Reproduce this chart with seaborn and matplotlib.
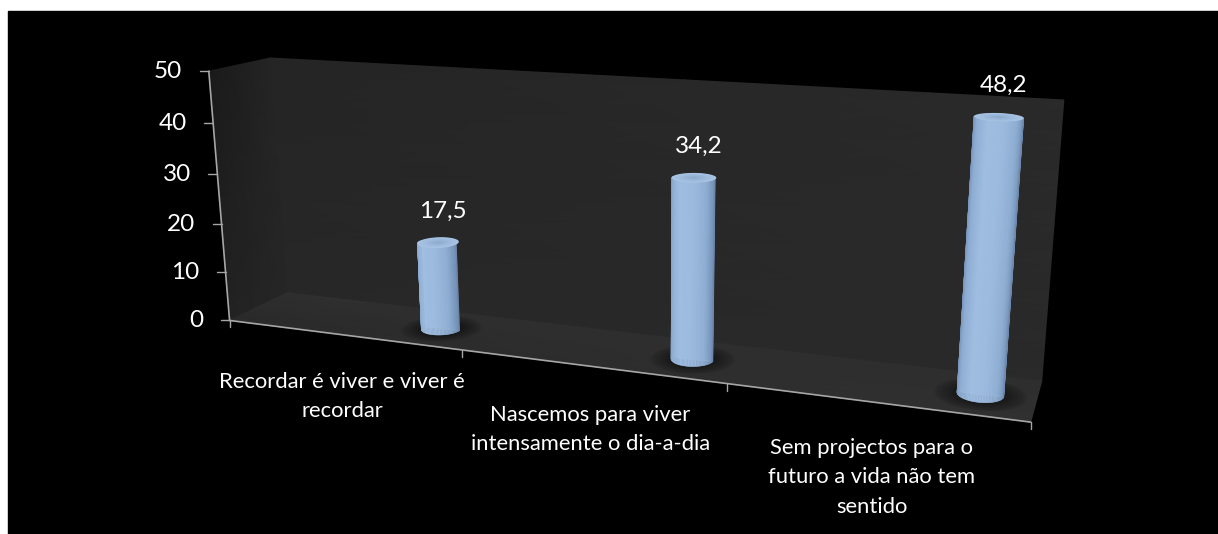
import numpy as np
import matplotlib
matplotlib.use("Agg")
import matplotlib.pyplot as plt
import matplotlib.transforms as mtransforms
from matplotlib.colors import LinearSegmentedColormap
from matplotlib.patches import Rectangle
import seaborn as sns

# Chart values
categories = [
    "Recordar é viver e viver é\nrecordar",
    "Nascemos para viver\nintensamente o dia-a-dia",
    "Sem projectos para o\nfuturo a vida não tem\nsentido",
]
values = [17.5, 34.2, 48.2]
value_labels = ["17,5", "34,2", "48,2"]
y_ticks = [0, 10, 20, 30, 40, 50]
x_ticks = [0, 1, 2, 3]

# Scene layout: (category pos, value, depth) anchors and their pixel positions,
# used to fit the perspective camera of the pseudo-3D box.
scene_anchors = [
    (0, 0, 0, 231, 321), (1, 0, 0, 461, 352), (2, 0, 0, 726, 383), (3, 0, 0, 1031, 422),
    (0, 10, 0, 226, 272), (0, 20, 0, 221, 223), (0, 30, 0, 216, 173), (0, 40, 0, 213, 123),
    (0, 50, 0, 210, 71), (0, 0, 1, 287, 293), (3, 0, 1, 1042, 380),
    (0, 50, 1, 270, 58), (3, 50, 1, 1064, 101),
]
bar_positions = [0.815, 1.815, 2.82]
bar_depth = 0.5
radius_u, radius_d = 0.076, 0.2
label_offsets = [(-120, 22), (-136, 21), (-159, 16)]

anchors = np.array(scene_anchors, float)
rows, rhs = [], []
for u, v, d, px, py in anchors:
    rows.append([u, v, d, 1, 0, 0, 0, 0, -px * u, -px * v, -px * d])
    rhs.append(px)
    rows.append([0, 0, 0, 0, u, v, d, 1, -py * u, -py * v, -py * d])
    rhs.append(py)
camera = np.append(np.linalg.lstsq(np.array(rows), np.array(rhs), rcond=None)[0], 1).reshape(3, 4)


def project(u, v, d):
    u, v, d = np.broadcast_arrays(np.asarray(u, float), np.asarray(v, float), np.asarray(d, float))
    pts = np.stack([u, v, d, np.ones_like(u)], axis=-1) @ camera.T
    return pts[..., 0] / pts[..., 2], pts[..., 1] / pts[..., 2]


class DepthPlane(mtransforms.Transform):
    """Maps (category pos, value) at a fixed depth onto the canvas."""
    input_dims = output_dims = 2
    is_separable = False

    def __init__(self, plane_depth):
        super().__init__()
        self.plane_depth = plane_depth

    def transform_non_affine(self, xy):
        xy = np.asarray(xy, float)
        return np.column_stack(project(xy[:, 0], xy[:, 1], self.plane_depth))


sns.set_theme(style="dark")
plt.rcParams["font.family"] = ["Lato", "DejaVu Sans"]

fig = plt.figure(figsize=(12.18, 5.34), dpi=100, facecolor="white")
ax = fig.add_axes([0, 0, 1, 1])
ax.add_patch(Rectangle((8, 11), 1210, 523, color="black", zorder=0))


def shade_face(corner_fn, greys, zorder=1):
    """Paints one box face with a grey gradient given at its four corners."""
    s, t = np.meshgrid(np.linspace(0, 1, 8), np.linspace(0, 1, 8))
    X, Y = corner_fn(s, t)
    g = np.array(greys, float)
    C = (g[0] * (1 - s) * (1 - t) + g[1] * s * (1 - t) + g[2] * (1 - s) * t + g[3] * s * t)
    ax.pcolormesh(X, Y, C, shading="gouraud", cmap="gray", vmin=0, vmax=1, zorder=zorder, rasterized=True)


shade_face(lambda s, t: project(3 * s, 50 * t, 1), [0.155, 0.165, 0.145, 0.165])
shade_face(lambda s, t: project(0, 50 * t, s), [0.135, 0.15, 0.105, 0.145])
shade_face(lambda s, t: project(3 * s, 0, t), [0.165, 0.19, 0.185, 0.18])

# Seaborn bars, re-planted from the flat axes onto the chart's mid-depth plane
n_existing = len(ax.patches)
sns.barplot(x=bar_positions, y=values, native_scale=True, width=1.8 * radius_u,
            color="#9dbbde", saturation=1, ax=ax, zorder=3)
plane = DepthPlane(bar_depth)
for patch in ax.patches[n_existing:]:
    patch.set_transform(plane + ax.transData)

body_cmap = LinearSegmentedColormap.from_list(
    "body", ["#6f8bb0", "#8dacd2", "#a0bee1", "#9cbadd", "#8eadd2", "#6d88ad"])
rim_cmap = LinearSegmentedColormap.from_list("rim", ["#8ba7ca", "#a9c5e6"])

for u0, val in zip(bar_positions, values):
    theta = np.linspace(0, 2 * np.pi, 90)
    # Soft contact shadow on the floor
    for k in np.linspace(2.0, 1.0, 20):
        X, Y = project(u0 + k * radius_u * np.cos(theta), 0, bar_depth + k * radius_d * np.sin(theta))
        ax.fill(X, Y, color="black", alpha=0.022, lw=0, zorder=2)
    # Curved side of the cylinder, painted strip by strip
    front = np.linspace(np.pi, 2 * np.pi, 48)
    U = u0 + radius_u * np.cos(front)
    D = bar_depth + radius_d * np.sin(front)
    X0, Y0 = project(U, 0, D)
    X1, Y1 = project(U, val, D)
    for i, frac in enumerate(np.linspace(0, 1, len(front) - 1)):
        ax.fill([X0[i], X0[i + 1], X1[i + 1], X1[i]], [Y0[i], Y0[i + 1], Y1[i + 1], Y1[i]],
                facecolor=body_cmap(frac), edgecolor=body_cmap(frac), lw=0.4, zorder=4)
    # Cap, lighter at the rim
    for frac in np.linspace(1, 0.1, 10):
        X, Y = project(u0 + frac * radius_u * np.cos(theta), val, bar_depth + frac * radius_d * np.sin(theta))
        ax.fill(X, Y, color=rim_cmap(frac), lw=0, zorder=5)

# Axis lines and ticks
axis_grey = "#a6a6a6"
fx, fy = project(np.array([0, 3]), 0, 0)
sns.lineplot(x=fx, y=fy, sort=False, estimator=None, color=axis_grey, lw=1.2, ax=ax, zorder=6)
lx, ly = project(0, np.array([0, 50]), 0)
sns.lineplot(x=lx, y=ly, sort=False, estimator=None, color=axis_grey, lw=1.2, ax=ax, zorder=6)
for t in y_ticks:
    px, py = project(0, t, 0)
    ax.plot([px - 9, px], [py, py], color=axis_grey, lw=1, zorder=6)
    ax.text(px - 26.5, py + 0.5, str(t), color="white", fontsize=17.5, ha="right", va="center", zorder=7)
for t in x_ticks:
    px, py = project(t, 0, 0)
    ax.plot([px, px], [py, py + 7], color=axis_grey, lw=1, zorder=6)

# Value labels above each cylinder
for u0, val, text in zip(bar_positions, values, value_labels):
    px, py = project(u0, val, bar_depth)
    ax.text(px + 5, py - 31.5, text, color="white", fontsize=17.5, ha="center", va="center", zorder=7)

# Category labels stepping down along the floor edge
for t, text, (dx, dy) in zip(x_ticks[1:], categories, label_offsets):
    px, py = project(t, 0, 0)
    ax.text(px + dx, py + dy, text, color="white", fontsize=15.8,
            ha="center", va="top", linespacing=1.58, zorder=7)

ax.set_xlim(0, 1218)
ax.set_ylim(534, 0)
ax.set_axis_off()
fig.savefig("out.png", dpi=100, facecolor="white")
